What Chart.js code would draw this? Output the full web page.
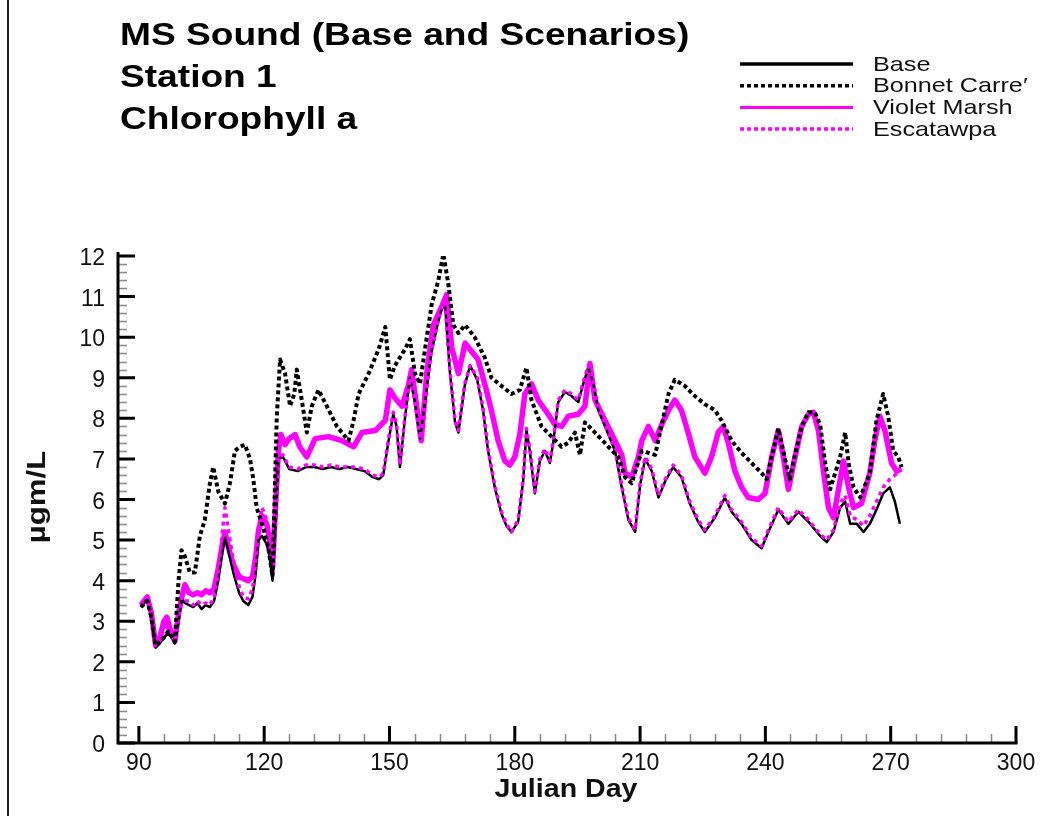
<!DOCTYPE html>
<html>
<head>
<meta charset="utf-8">
<title>MS Sound Station 1 - Chlorophyll a</title>
<script src="https://cdn.jsdelivr.net/npm/chart.js@4.4.1/dist/chart.umd.min.js"></script>
<style>
  html, body { margin: 0; padding: 0; background: #fff; }
  #wrap { width: 1051px; height: 816px; }
</style>
</head>
<body>
<div id="wrap"><canvas id="chlaChart" width="1051" height="816"></canvas></div>
<script>
/* text */
const titleLines = ["MS Sound (Base and Scenarios)", "Station 1", "Chlorophyll a"];
const seriesNames = ["Base", "Bonnet Carre\u2032", "Violet Marsh", "Escatawpa"];
const xTitle = "Julian Day";
const yTitle = "\u00b5gm/L";
const xTicks = [90, 120, 150, 180, 210, 240, 270, 300];
const yTicks = [0, 1, 2, 3, 4, 5, 6, 7, 8, 9, 10, 11, 12];

/* Base + Escatawpa share the same days */
const baseDays = [
  90.5, 92, 93, 94, 95, 96, 97, 98, 98.6, 99.5,
  100.3, 101, 102, 103, 104, 105, 106, 107, 108, 109,
  110, 110.6, 111.5, 112.6, 114, 115, 116.2, 117.2, 118, 118.6,
  119.5, 120.6, 121.3, 122, 122.8, 123.4, 124.5, 126, 128, 130,
  132, 134, 136, 138, 140, 142, 144, 146, 147.5, 148.5,
  149.7, 150.9, 151.7, 152.5, 153.7, 154.9, 156.1, 157.3, 158.5, 160,
  161.5, 162.5, 163.3, 164.5, 165.7, 166.5, 168, 169.3, 171, 172.4,
  173.6, 175.2, 176.8, 178, 179.2, 180.8, 182, 182.8, 183.6, 184.8,
  186, 187.2, 188.4, 189.2, 190.4, 192, 193.6, 195.2, 196.4, 197.6,
  198.8, 200, 202.4, 204, 205.6, 207.2, 208.8, 210, 211.2, 212.8,
  214.4, 216, 217.9, 219.9, 221.9, 223.9, 225.5, 227.9, 230.3, 231.9,
  234.3, 236.7, 239.1, 240.7, 243.1, 245.5, 247.9, 250.3, 253.1, 254.7,
  256.3, 257.9, 259.1, 260.3, 261.9, 263.5, 265, 266.6, 268.2, 269.8,
  271, 272.2
];
const baseVals = [
  3.35, 3.55, 3.1, 2.35, 2.45, 2.6, 2.7, 2.6, 2.45, 3.0,
  3.55, 3.45, 3.4, 3.35, 3.45, 3.3, 3.4, 3.35, 3.5, 4.0,
  4.7, 5.05, 4.7, 4.2, 3.7, 3.5, 3.4, 3.6, 4.2, 5.0,
  5.1, 4.9, 4.6, 4.0, 5.5, 7.0, 7.05, 6.75, 6.7, 6.8,
  6.8, 6.75, 6.8, 6.75, 6.8, 6.75, 6.7, 6.55, 6.5, 6.6,
  7.4, 8.1, 7.8, 6.8, 8.0, 9.0, 8.4, 7.5, 8.4, 9.6,
  10.3, 10.7, 10.8, 9.1, 7.9, 7.65, 8.8, 9.3, 8.95, 8.2,
  7.2, 6.3, 5.65, 5.35, 5.2, 5.45, 6.45, 7.7, 7.2, 6.15,
  6.95, 7.2, 6.9, 7.4, 8.4, 8.65, 8.55, 8.4, 8.85, 9.25,
  8.85, 8.2, 7.6, 7.2, 6.3, 5.5, 5.2, 6.35, 7.0, 6.7,
  6.05, 6.45, 6.8, 6.55, 5.9, 5.45, 5.2, 5.55, 6.05, 5.7,
  5.4, 5.0, 4.8, 5.2, 5.75, 5.4, 5.7, 5.45, 5.1, 4.95,
  5.2, 5.8, 5.95, 5.4, 5.4, 5.2, 5.4, 5.75, 6.15, 6.3,
  5.95, 5.4
];
const escatawpaVals = [
  3.4, 3.6, 3.15, 2.4, 2.5, 2.8, 2.9, 2.65, 2.5, 3.1,
  3.6, 3.5, 3.5, 3.4, 3.5, 3.4, 3.45, 3.4, 3.6, 4.2,
  5.2, 5.8, 5.2, 4.5, 3.85, 3.6, 3.55, 3.8, 4.5, 5.3,
  5.8, 5.5, 5.0, 4.2, 5.7, 7.05, 7.1, 6.8, 6.75, 6.85,
  6.85, 6.8, 6.85, 6.8, 6.8, 6.8, 6.75, 6.6, 6.55, 6.65,
  7.45, 8.15, 7.85, 6.85, 8.05, 9.0, 8.45, 7.5, 8.45, 9.65,
  10.35, 10.75, 10.85, 9.15, 7.95, 7.7, 8.85, 9.3, 9.0, 8.25,
  7.25, 6.35, 5.7, 5.4, 5.2, 5.5, 6.5, 7.75, 7.25, 6.2,
  7.0, 7.25, 6.95, 7.45, 8.45, 8.7, 8.6, 8.45, 8.9, 9.3,
  8.9, 8.25, 7.65, 7.25, 6.35, 5.55, 5.25, 6.4, 7.05, 6.75,
  6.1, 6.5, 6.85, 6.6, 5.95, 5.5, 5.25, 5.6, 6.1, 5.75,
  5.45, 5.05, 4.85, 5.25, 5.8, 5.45, 5.75, 5.5, 5.15, 5.0,
  5.25, 5.9, 6.1, 5.6, 5.5, 5.35, 5.6, 5.95, 6.3, 6.5,
  6.6, 6.7
];

const bonnetDays = [
  90.5, 92, 93, 94, 95, 96, 97, 98, 98.6, 99.5,
  100.2, 101, 102.2, 103.4, 104.6, 105.8, 107, 107.8, 109, 110.6,
  111.8, 113, 114.2, 115.4, 116.6, 117.4, 118.2, 119.8, 121, 122,
  123, 123.8, 125, 126.2, 127.2, 127.8, 129, 130.2, 131.4, 133,
  135, 137.4, 140.2, 141.4, 142.6, 145, 147.4, 149, 150.1, 151.3,
  153.7, 154.9, 156.1, 157.3, 158.5, 160.1, 161.7, 162.9, 164.1, 165.3,
  166.5, 168.1, 170.4, 172.8, 174.4, 176.8, 179.2, 181.2, 182.8, 184,
  186.4, 188.8, 191.2, 192.8, 194.4, 195.6, 196.8, 199.2, 202.4, 204.8,
  206.4, 208, 210.4, 212, 213.6, 215.2, 216.8, 218.3, 220.7, 223.1,
  225.5, 227.9, 229.5, 231.9, 234.3, 236.7, 239.1, 240.3, 241.5, 243.1,
  244.7, 245.8, 247.1, 248.7, 250.3, 251.8, 253.1, 254.3, 255.5, 256.7,
  257.9, 259.1, 259.9, 261.1, 262.7, 265, 266.6, 268.2, 269.4, 270.6,
  271.8, 272.6
];
const bonnetVals = [
  3.35, 3.5, 3.1, 2.4, 2.5, 2.6, 2.75, 2.6, 2.5, 4.0,
  4.75, 4.6, 4.2, 4.2, 5.1, 5.5, 6.4, 6.8, 6.2, 5.9,
  6.4, 7.2, 7.3, 7.35, 7.0, 6.5, 5.8, 5.3, 4.8, 4.1,
  8.0, 9.45, 9.1, 8.3, 8.6, 9.2, 8.45, 7.65, 8.3, 8.7,
  8.3, 7.8, 7.45, 7.95, 8.6, 9.1, 9.7, 10.25, 8.95, 9.3,
  9.7, 9.95, 9.1, 8.85, 9.7, 10.8, 11.4, 12.05, 11.3, 10.3,
  10.1, 10.3, 10.0, 9.5, 9.0, 8.8, 8.6, 8.7, 9.25, 8.45,
  7.8, 7.55, 7.3, 7.4, 7.65, 7.1, 7.9, 7.65, 7.3, 7.05,
  6.55, 6.4, 7.2, 7.15, 7.1, 7.85, 8.6, 8.95, 8.8, 8.55,
  8.35, 8.2, 7.95, 7.45, 7.15, 6.9, 6.65, 6.5, 7.05, 7.75,
  7.0, 6.5, 7.1, 7.8, 8.15, 8.15, 7.85, 6.9, 6.25, 6.65,
  7.05, 7.65, 6.9, 6.3, 6.05, 6.65, 7.95, 8.6, 8.05, 7.2,
  7.05, 6.8
];

const violetDays = [
  90.5, 92, 93, 94, 95, 96, 96.7, 97.5, 98.6, 99.5,
  100.3, 101, 102, 103, 104, 105, 106, 107, 108, 109,
  110, 110.6, 111.5, 112.6, 114, 115, 116.2, 117.2, 118, 118.6,
  119.5, 120.6, 121.3, 122, 122.8, 123.4, 124, 125, 126, 127.4,
  128.5, 130.2, 132.2, 135.4, 138.6, 141.4, 143.4, 146.6, 149, 150.1,
  151.3, 153, 154.5, 155.3, 156.5, 157.6, 158.9, 160.5, 162.5, 163.7,
  164.9, 166.5, 168.1, 171.2, 172.8, 174.4, 176, 177.6, 178.8, 180,
  181.2, 182.4, 184, 185.6, 188, 189.6, 191.2, 192.8, 195.2, 196.8,
  198, 199.2, 201.6, 204, 205.6, 206.4, 208, 209.6, 210.4, 212,
  213.6, 215.2, 216.8, 218.3, 219.9, 221.5, 223.1, 225.5, 227.1, 228.7,
  229.9, 231.1, 232.7, 234.3, 235.9, 238.3, 239.9, 241.5, 243.1, 244.3,
  245.5, 247.1, 248.7, 250.3, 251.5, 252.7, 253.9, 255.1, 256.3, 257.5,
  258.7, 259.9, 261.1, 263, 265, 266.2, 267.4, 268.6, 270.2, 271.4,
  272.6
];
const violetVals = [
  3.4, 3.6, 3.2, 2.4, 2.6, 3.0, 3.1, 2.8, 2.5, 3.2,
  3.6, 3.9, 3.7, 3.65, 3.7, 3.65, 3.75, 3.7, 3.8, 4.3,
  4.9, 5.2, 4.8, 4.4, 4.1, 4.05, 4.0, 4.1, 4.6, 5.2,
  5.6, 5.4, 5.0, 4.3, 6.0, 7.2, 7.6, 7.35, 7.5, 7.6,
  7.3, 7.05, 7.5, 7.55, 7.45, 7.3, 7.65, 7.7, 7.95, 8.7,
  8.5, 8.3, 8.8, 9.2, 8.3, 7.45, 9.1, 10.3, 10.75, 11.05,
  9.75, 9.1, 9.85, 9.45, 8.85, 8.2, 7.45, 6.95, 6.85, 7.05,
  7.6, 8.6, 8.85, 8.45, 8.1, 7.85, 7.8, 8.05, 8.1, 8.3,
  9.35, 8.45, 7.95, 7.45, 7.1, 6.65, 6.55, 7.05, 7.45, 7.8,
  7.45, 7.85, 8.2, 8.45, 8.2, 7.65, 7.05, 6.65, 7.05, 7.65,
  7.8, 7.4, 6.7, 6.3, 6.05, 6.0, 6.15, 7.05, 7.7, 7.05,
  6.25, 7.05, 7.8, 8.1, 8.15, 7.7, 6.7, 5.8, 5.55, 6.25,
  6.95, 6.3, 5.8, 5.9, 6.65, 7.45, 8.05, 7.7, 6.9, 6.7,
  6.75
];

const MAGENTA = "#f0f";
const FONT = "'Liberation Sans', Arial, sans-serif";

function toPoints(days, vals) {
  return days.map((d, i) => ({ x: d, y: vals[i] }));
}

// legend sample styles, same order as seriesNames
const legendStyles = [
  { color: "#000", width: 3.5, dash: [] },
  { color: "#000", width: 3.5, dash: [4, 3] },
  { color: MAGENTA, width: 3, dash: [] },
  { color: MAGENTA, width: 3.5, dash: [4, 3] }
];

// text drawn a bit wider than the font, like the original plot
function wideText(ctx, text, x, y, sx, align) {
  ctx.save();
  ctx.translate(x, y);
  ctx.scale(sx, 1);
  ctx.textAlign = align || "left";
  ctx.fillText(text, 0, 0);
  ctx.restore();
}

/* axes, ticks, titles and legend are drawn by hand on top */
const decorations = {
  id: "decorations",
  afterDraw(chart) {
    const ctx = chart.ctx;
    const xs = chart.scales.x;
    const ys = chart.scales.y;
    const area = chart.chartArea;
    ctx.save();

    // frame edge on the left
    ctx.strokeStyle = "#222";
    ctx.lineWidth = 2;
    ctx.beginPath();
    ctx.moveTo(8, 0);
    ctx.lineTo(8, 816);
    ctx.stroke();

    // minor ticks
    ctx.strokeStyle = "#888";
    ctx.lineWidth = 1.5;
    ctx.beginPath();
    for (let i = 1; i < 60; i++) {
      if (i % 5 === 0) continue;
      const py = Math.round(ys.getPixelForValue(i / 5)) + 0.5;
      ctx.moveTo(area.left, py);
      ctx.lineTo(area.left + 9, py);
    }
    for (let d = 96; d < 300; d += 6) {
      if ((d - 90) % 30 === 0) continue;
      const px = Math.round(xs.getPixelForValue(d)) + 0.5;
      ctx.moveTo(px, area.bottom);
      ctx.lineTo(px, area.bottom - 9);
    }
    ctx.stroke();

    // major ticks
    ctx.strokeStyle = "#000";
    ctx.lineWidth = 3;
    ctx.beginPath();
    yTicks.forEach(v => {
      const py = ys.getPixelForValue(v);
      ctx.moveTo(area.left, py);
      ctx.lineTo(area.left + 17, py);
    });
    xTicks.forEach(v => {
      const px = xs.getPixelForValue(v);
      ctx.moveTo(px, area.bottom);
      ctx.lineTo(px, area.bottom - 17);
    });
    ctx.stroke();

    // axis lines
    ctx.beginPath();
    ctx.moveTo(area.left, ys.getPixelForValue(12) - 4);
    ctx.lineTo(area.left, area.bottom);
    ctx.lineTo(xs.getPixelForValue(300) + 1.5, area.bottom);
    ctx.stroke();

    // tick labels
    ctx.fillStyle = "#111";
    ctx.font = "23px " + FONT;
    ctx.textBaseline = "alphabetic";
    yTicks.forEach(v => {
      wideText(ctx, String(v), area.left - 13, ys.getPixelForValue(v) + 9, 1.0, "right");
    });
    xTicks.forEach(v => {
      wideText(ctx, String(v), xs.getPixelForValue(v), area.bottom + 27, 1.0, "center");
    });

    // axis titles
    ctx.font = "bold 26px " + FONT;
    wideText(ctx, xTitle, 566, 797, 1.1, "center");
    ctx.save();
    ctx.translate(45, 497);
    ctx.rotate(-Math.PI / 2);
    ctx.scale(1.2, 1);
    ctx.textAlign = "center";
    ctx.fillText(yTitle, 0, 0);
    ctx.restore();

    // title block
    ctx.fillStyle = "#000";
    ctx.font = "bold 32px " + FONT;
    titleLines.forEach((t, i) => {
      wideText(ctx, t, 120, 45 + i * 42, 1.16, "left");
    });

    // legend
    ctx.font = "21px " + FONT;
    seriesNames.forEach((name, i) => {
      const ly = 64 + i * 21.7;
      const st = legendStyles[i];
      ctx.strokeStyle = st.color;
      ctx.lineWidth = st.width;
      ctx.setLineDash(st.dash);
      ctx.beginPath();
      ctx.moveTo(740, ly);
      ctx.lineTo(853, ly);
      ctx.stroke();
      ctx.setLineDash([]);
      ctx.fillStyle = "#111";
      wideText(ctx, name, 873, ly + 6.5, 1.2, "left");
    });

    ctx.restore();
  }
};

const chlaChart = new Chart(document.querySelector("#chlaChart").getContext("2d"), {
  type: "line",
  data: {
    datasets: [
      {
        label: seriesNames[0],
        data: toPoints(baseDays, baseVals),
        borderColor: "#000",
        borderWidth: 2.5,
        order: 3
      },
      {
        label: seriesNames[1],
        data: toPoints(bonnetDays, bonnetVals),
        borderColor: "#000",
        borderWidth: 4,
        borderDash: [4, 3],
        order: 1
      },
      {
        label: seriesNames[2],
        data: toPoints(violetDays, violetVals),
        borderColor: MAGENTA,
        borderWidth: 5.5,
        order: 4
      },
      {
        label: seriesNames[3],
        data: toPoints(baseDays, escatawpaVals),
        borderColor: MAGENTA,
        borderWidth: 3.5,
        borderDash: [4, 4],
        order: 2
      }
    ]
  },
  options: {
    responsive: false,
    animation: false,
    events: [],
    layout: { padding: { left: 118, top: 256, right: 35, bottom: 73 } },
    elements: {
      line: { tension: 0, fill: false, borderJoinStyle: "round" },
      point: { radius: 0 }
    },
    scales: {
      x: { type: "linear", min: 85, max: 300, display: false },
      y: { type: "linear", min: 0, max: 12, display: false }
    },
    plugins: {
      legend: { display: false },
      tooltip: { enabled: false },
      title: { display: false }
    }
  },
  plugins: [decorations]
});
</script>
</body>
</html>
